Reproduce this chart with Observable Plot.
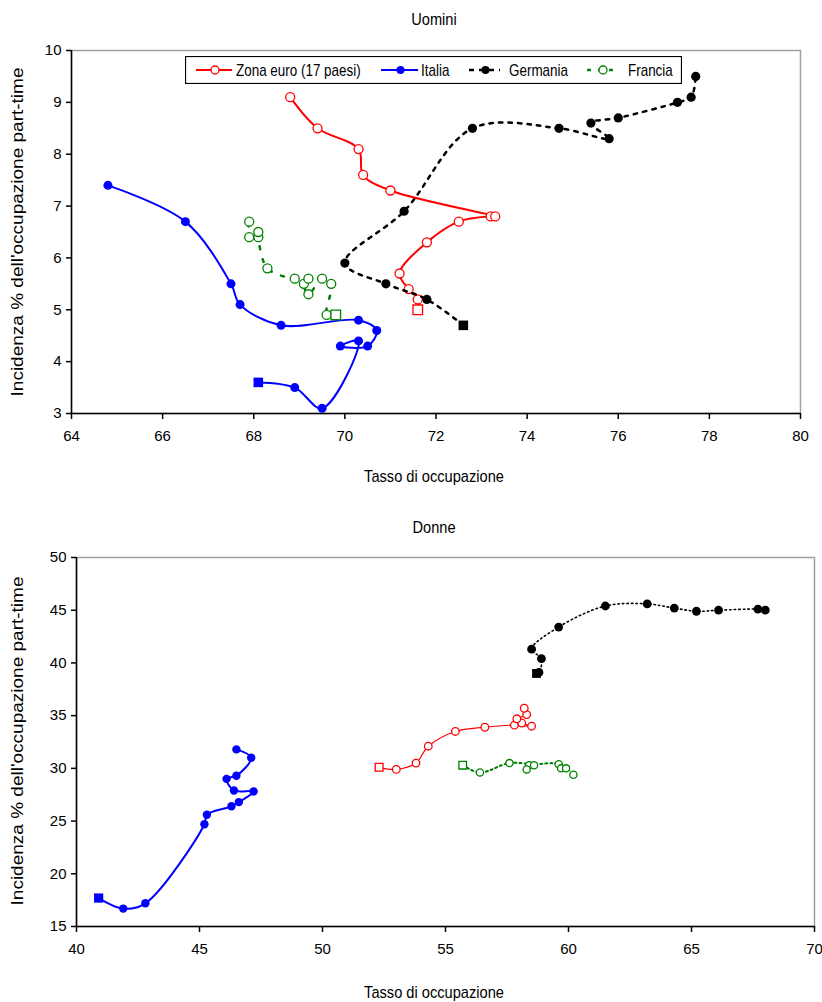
<!DOCTYPE html>
<html><head><meta charset="utf-8">
<script src="https://cdn.jsdelivr.net/npm/d3@7"></script>
<script src="https://cdn.jsdelivr.net/npm/@observablehq/plot@0.6"></script>
<style>
body{margin:0;background:#fff;}
#wrap{position:relative;width:822px;height:1002px;overflow:hidden;font-family:"Liberation Sans",Arial,sans-serif;color:#000;}
#wrap svg.plot{position:absolute;left:0;}
.lbl{position:absolute;white-space:nowrap;}
</style></head><body><div id="wrap"></div>
<script>
// ---------- data ----------
const seriesNames = ["Zona euro (17 paesi)", "Italia", "Germania", "Francia"];
const xTicksMen = [64, 66, 68, 70, 72, 74, 76, 78, 80];
const yTicksMen = [3, 4, 5, 6, 7, 8, 9, 10];
const xTicksWomen = [40, 45, 50, 55, 60, 65, 70];
const yTicksWomen = [15, 20, 25, 30, 35, 40, 45, 50];

// Uomini
const euroMenX = [71.6, 71.6, 71.4, 71.2, 71.8, 72.5, 73.2, 73.3, 71.0, 70.4, 70.3, 69.4, 68.8];
const euroMenY = [5.0, 5.2, 5.4, 5.7, 6.3, 6.7, 6.8, 6.8, 7.3, 7.6, 8.1, 8.5, 9.1];
const italyMenX = [68.1, 68.9, 69.5, 70.3, 69.9, 70.5, 70.7, 70.3, 68.6, 67.7, 67.5, 66.5, 64.8];
const italyMenY = [3.6, 3.5, 3.1, 4.4, 4.3, 4.3, 4.6, 4.8, 4.7, 5.1, 5.5, 6.7, 7.4];
const germanyMenX = [72.6, 71.8, 70.9, 70.0, 71.3, 72.8, 74.7, 75.8, 75.4, 76.0, 77.3, 77.6, 77.7];
const germanyMenY = [4.7, 5.2, 5.5, 5.9, 6.9, 8.5, 8.5, 8.3, 8.6, 8.7, 9.0, 9.1, 9.5];
const franceMenX = [69.8, 69.6, 69.7, 69.5, 69.2, 69.1, 69.2, 68.9, 68.3, 68.1, 68.1, 67.9, 67.9];
const franceMenY = [4.9, 4.9, 5.5, 5.6, 5.3, 5.5, 5.6, 5.6, 5.8, 6.4, 6.5, 6.4, 6.7];

// Donne
const euroWomenX = [52.3, 53.0, 53.8, 54.3, 55.4, 56.6, 57.8, 58.5, 58.1, 57.9, 58.3, 58.2];
const euroWomenY = [30.1, 29.9, 30.5, 32.1, 33.5, 33.9, 34.1, 34.0, 34.3, 34.7, 35.1, 35.7];
const italyWomenX = [40.9, 41.9, 42.8, 45.2, 45.3, 46.3, 46.6, 47.2, 46.4, 46.1, 46.5, 47.1, 46.5];
const italyWomenY = [17.7, 16.7, 17.2, 24.7, 25.6, 26.4, 26.8, 27.8, 27.9, 29.0, 29.3, 31.0, 31.8];
const germanyWomenX = [58.7, 58.8, 58.9, 58.5, 59.6, 61.5, 63.2, 64.3, 65.2, 66.1, 67.7, 68.0];
const germanyWomenY = [39.0, 39.1, 40.4, 41.3, 43.4, 45.4, 45.6, 45.2, 44.9, 45.0, 45.1, 45.0];
const franceWomenX = [55.7, 56.4, 57.6, 58.4, 58.3, 58.6, 59.6, 59.7, 59.9, 60.2];
const franceWomenY = [30.3, 29.6, 30.5, 30.3, 29.9, 30.3, 30.4, 30.0, 30.0, 29.4];

// ---------- styles ----------
const colors = ["#ff0000", "#0000ff", "#000000", "#008000"];
const openMarker = [true, false, false, true];
const stMen = [
  {lw: 2, dash: null, r: 4.5, sr: 5.4},
  {lw: 2, dash: null, r: 4.5, sr: 5.4},
  {lw: 2.5, dash: "3.5,6", r: 4.6, sr: 5.4},
  {lw: 2.5, dash: "3,10", r: 4.5, sr: 5.4}
];
const stWomen = [
  {lw: 1.2, dash: null, r: 3.8, sr: 4.4},
  {lw: 2, dash: null, r: 4.2, sr: 5.2},
  {lw: 1.6, dash: "1.5,3", r: 4.4, sr: 5.0},
  {lw: 2, dash: "2,3", r: 3.6, sr: 4.3}
];

const FONT = '"Liberation Sans",Arial,sans-serif';

function seriesMarks(xs, ys, i, st) {
  const rows = xs.map((x, k) => ({x, y: ys[k]}));
  const c = colors[i], open = openMarker[i];
  return [
    Plot.line(rows, {x: "x", y: "y", curve: "catmull-rom", stroke: c, strokeWidth: st.lw,
      strokeDasharray: st.dash || undefined}),
    Plot.dot(rows.slice(1), {x: "x", y: "y", r: st.r, fill: open ? "#fff" : c,
      stroke: c, strokeWidth: open ? 1.3 : 0}),
    Plot.dot(rows.slice(0, 1), {x: "x", y: "y", symbol: "square", r: st.sr, fill: open ? "#fff" : c,
      stroke: c, strokeWidth: open ? 1.3 : 0})
  ];
}

function makeChart(cfg) {
  const p = Plot.plot({
    width: 822, height: cfg.height,
    marginLeft: cfg.ml, marginRight: cfg.mr, marginTop: cfg.mt, marginBottom: cfg.mb,
    style: {fontFamily: FONT, fontSize: "15px", color: "#000", background: "transparent", overflow: "visible"},
    x: {domain: cfg.xd},
    y: {domain: cfg.yd},
    marks: [
      Plot.frame({stroke: "#a0a0a0", strokeWidth: 1.5}),
      Plot.axisX({ticks: cfg.xt, tickFormat: d => String(d), tickSize: 6, tickPadding: 11, label: null, stroke: "#000", strokeWidth: 1.5}),
      Plot.axisY({ticks: cfg.yt, tickFormat: d => String(d), tickSize: 5, tickPadding: 5, label: null, stroke: "#000", strokeWidth: 1.5}),
      Plot.ruleX([cfg.xd[0]], {stroke: "#000", strokeWidth: 1.5}),
      Plot.ruleY([cfg.yd[0]], {stroke: "#000", strokeWidth: 1.5}),
      ...cfg.series.flatMap((s, i) => seriesMarks(s[0], s[1], i, cfg.st[i]))
    ]
  });
  p.classList.add("plot");
  p.style.top = cfg.top + "px";
  return p;
}

const wrap = document.getElementById("wrap");

wrap.appendChild(makeChart({
  top: 0, height: 500, ml: 71, mr: 22, mt: 50, mb: 87,
  xd: [64, 80], yd: [3, 10], xt: xTicksMen, yt: yTicksMen, st: stMen,
  series: [[euroMenX, euroMenY], [italyMenX, italyMenY], [germanyMenX, germanyMenY], [franceMenX, franceMenY]]
}));
wrap.appendChild(makeChart({
  top: 500, height: 502, ml: 76, mr: 8, mt: 57, mb: 76,
  xd: [40, 70], yd: [15, 50], xt: xTicksWomen, yt: yTicksWomen, st: stWomen,
  series: [[euroWomenX, euroWomenY], [italyWomenX, italyWomenY], [germanyWomenX, germanyWomenY], [franceWomenX, franceWomenY]]
}));

function addLabel(txt, cx, cy, size, rot) {
  const d = document.createElement("div");
  d.className = "lbl";
  d.textContent = txt;
  d.style.left = cx + "px";
  d.style.top = cy + "px";
  d.style.fontSize = size + "px";
  d.style.transform = rot
    ? "translate(-50%,-50%) rotate(-90deg) scale(1,0.85)"
    : "translate(-50%,-50%) scale(0.86,1)";
  wrap.appendChild(d);
}
addLabel("Uomini", 434, 20, 17);
addLabel("Tasso di occupazione", 434, 477, 17);
addLabel("Incidenza % dell'occupazione part-time", 18, 232, 19, true);
addLabel("Donne", 434, 528, 17);
addLabel("Tasso di occupazione", 434, 993, 17);
addLabel("Incidenza % dell'occupazione part-time", 18, 741, 19, true);

// legend
const leg = d3.select(wrap).append("svg")
  .style("position", "absolute").style("left", "185px").style("top", "56px")
  .attr("width", 497).attr("height", 28);
leg.append("rect").attr("x", 0.5).attr("y", 0.5).attr("width", 496).attr("height", 27)
  .attr("fill", "#fff").attr("stroke", "#000").attr("stroke-width", 1.2);
const legPos = [11, 196, 284, 402];
const legW = [36, 37, 31, 30];
const legText = [51, 236, 324, 443];
seriesNames.forEach((name, i) => {
  const g = leg.append("g");
  g.append("line").attr("x1", legPos[i]).attr("x2", legPos[i] + legW[i]).attr("y1", 14).attr("y2", 14)
    .attr("stroke", colors[i]).attr("stroke-width", stMen[i].lw)
    .attr("stroke-dasharray", i === 2 ? "5,5" : (i === 3 ? "4,7" : null));
  g.append("circle").attr("cx", legPos[i] + legW[i] / 2 + 1).attr("cy", 14).attr("r", 4)
    .attr("fill", openMarker[i] ? "#fff" : colors[i]).attr("stroke", colors[i]).attr("stroke-width", openMarker[i] ? 1.3 : 0);
  g.append("text").attr("transform", `translate(${legText[i]},14) scale(0.84,1)`).attr("dy", "0.35em")
    .attr("font-family", FONT).attr("font-size", 16).text(name);
});
</script></body></html>
